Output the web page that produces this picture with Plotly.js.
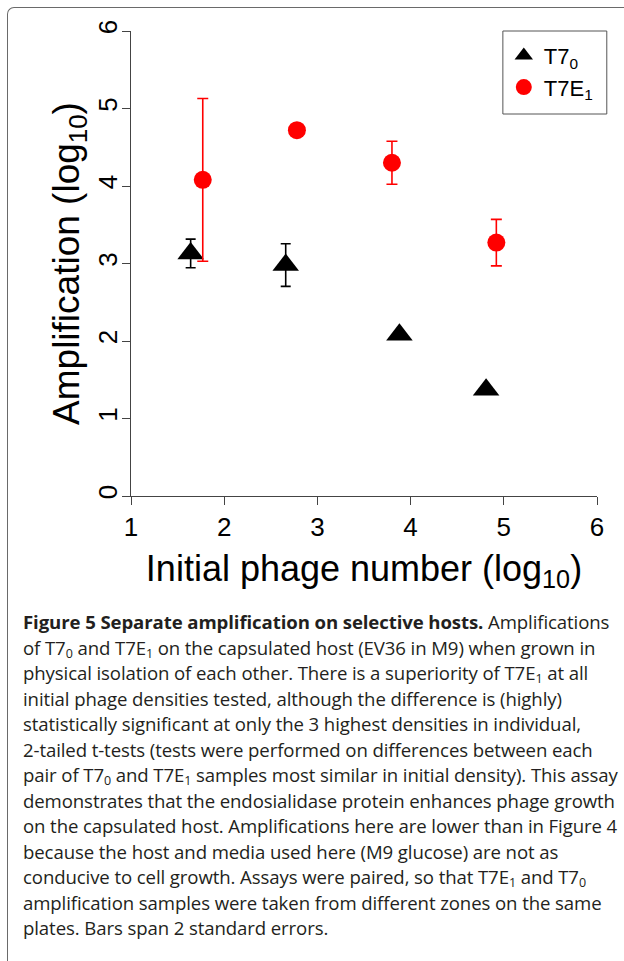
<!DOCTYPE html>
<html>
<head>
<meta charset="utf-8">
<script src="https://cdn.plot.ly/plotly-3.0.1.min.js"></script>
<style>
  html, body { margin: 0; padding: 0; background: #fff; }
  #wrap { position: relative; width: 624px; height: 961px; overflow: hidden; }
  #frame { position: absolute; left: 7px; top: 7px; width: 700px; height: 1000px;
           border-left: 1.5px solid #6a6a6a; border-top: 1.5px solid #6a6a6a; border-top-left-radius: 7px; }
  #chart { position: absolute; left: 0; top: 0; width: 624px; height: 961px; }
  #caption { position: absolute; left: 23px; top: 609px; width: 600px;
             font-family: "Open Sans", "Noto Sans", sans-serif; font-size: 18.6px; line-height: 25.5px;
             letter-spacing: -0.1px; color: #231f20; white-space: nowrap; }
  #caption .s { font-size: 12.5px; line-height: 10px; position: relative; top: 3px; }
</style>
</head>
<body>
<div id="wrap">
  <div id="frame"></div>
  <div id="chart"></div>
  <div id="caption"><b>Figure 5 Separate amplification on selective hosts.</b> Amplifications<br>of T7<span class="s">0</span> and T7E<span class="s">1</span> on the capsulated host (EV36 in M9) when grown in<br>physical isolation of each other. There is a superiority of T7E<span class="s">1</span> at all<br>initial phage densities tested, although the difference is (highly)<br>statistically significant at only the 3 highest densities in individual,<br>2-tailed t-tests (tests were performed on differences between each<br>pair of T7<span class="s">0</span> and T7E<span class="s">1</span> samples most similar in initial density). This assay<br>demonstrates that the endosialidase protein enhances phage growth<br>on the capsulated host. Amplifications here are lower than in Figure 4<br>because the host and media used here (M9 glucose) are not as<br>conducive to cell growth. Assays were paired, so that T7E<span class="s">1</span> and T7<span class="s">0</span><br>amplification samples were taken from different zones on the same<br>plates. Bars span 2 standard errors.</div>
</div>
<script>
// T7_0 (black triangles)
var t70_x = [1.64, 2.66, 3.88, 4.81];
var t70_y = [3.13, 2.98, 2.08, 1.37];
var t70_err = [0.185, 0.275, null, null];
// T7E_1 (red circles)
var t7e1_x = [1.77, 2.78, 3.80, 4.92];
var t7e1_y = [4.08, 4.72, 4.30, 3.27];
var t7e1_err = [1.05, null, 0.277, 0.30];

var xTicks = [1, 2, 3, 4, 5, 6];
var yTicks = [0, 1, 2, 3, 4, 5, 6];
var legendNames = ["T7<sub>0</sub>", "T7E<sub>1</sub>"];

var FONT = "Liberation Sans, Arial, Helvetica, sans-serif";

var traces = [
  {
    x: t70_x, y: t70_y, type: "scatter", mode: "markers", name: legendNames[0],
    marker: { symbol: "triangle-up", size: 23, color: "#000000" },
    error_y: { type: "data", array: t70_err, visible: true, color: "#000000", thickness: 1.6, width: 5 }
  },
  {
    x: t7e1_x, y: t7e1_y, type: "scatter", mode: "markers", name: legendNames[1],
    marker: { symbol: "circle", size: 18, color: "#ff0000" },
    error_y: { type: "data", array: t7e1_err, visible: true, color: "#ff0000", thickness: 1.6, width: 5.5 }
  }
];

var axisCommon = {
  showgrid: false, zeroline: false, showline: true, linecolor: "#444", linewidth: 1,
  ticks: "outside", ticklen: 8, tickcolor: "#444", tickwidth: 1,
  tickfont: { family: FONT, size: 26, color: "#000" }, tickmode: "array"
};

var layout = {
  width: 624, height: 961,
  margin: { l: 131, r: 27, t: 31, b: 465, pad: 0 },
  paper_bgcolor: "rgba(0,0,0,0)", plot_bgcolor: "rgba(0,0,0,0)",
  showlegend: true,
  legend: {
    x: 0.80, y: 0.992, xanchor: "left", yanchor: "top",
    bgcolor: "rgba(0,0,0,0)", borderwidth: 0,
    font: { family: FONT, size: 22, color: "#000" }
  },
  xaxis: Object.assign({}, axisCommon, {
    range: [1, 6], tickvals: xTicks, ticktext: xTicks.map(String),
    title: { text: "Initial phage number (log<sub>10</sub>)", font: { family: FONT, size: 36, color: "#000" }, standoff: 14 }
  }),
  yaxis: Object.assign({}, axisCommon, {
    range: [0, 6], tickvals: yTicks, ticktext: yTicks.map(String), tickangle: -90,
    ticklabelstandoff: -5,
    title: { text: "Amplification (log<sub>10</sub>)", font: { family: FONT, size: 37, color: "#000" }, standoff: 1 }
  }),
  shapes: [
    { type: "rect", xref: "paper", yref: "paper", x0: 0.798, x1: 1.021, y0: 0.8215, y1: 1.0,
      line: { color: "#555", width: 1 }, fillcolor: "rgba(0,0,0,0)" }
  ]
};

Plotly.newPlot("chart", traces, layout, { displayModeBar: false, staticPlot: true });
</script>
</body>
</html>
